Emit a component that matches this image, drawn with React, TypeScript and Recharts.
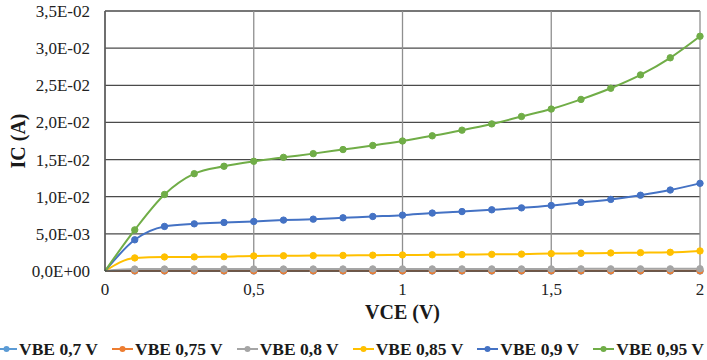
import { CartesianGrid, Legend, Line, LineChart, XAxis, YAxis } from "recharts";

const VCE = [0, 0.1, 0.2, 0.3, 0.4, 0.5, 0.6, 0.7, 0.8, 0.9, 1, 1.1, 1.2, 1.3, 1.4, 1.5, 1.6, 1.7, 1.8, 1.9, 2];

const IC_070 = [0, 0.000002, 0.000002, 0.000002, 0.000002, 0.000002, 0.000002, 0.000002, 0.000002, 0.000002, 0.000002, 0.000002, 0.000002, 0.000002, 0.000002, 0.000002, 0.000002, 0.000002, 0.000002, 0.000002, 0.000002];
const IC_075 = [0, 0.00003, 0.00003, 0.00003, 0.00003, 0.00003, 0.00003, 0.00003, 0.00003, 0.00003, 0.00003, 0.00003, 0.00003, 0.00003, 0.00003, 0.00003, 0.00003, 0.00003, 0.00003, 0.00003, 0.00003];
const IC_080 = [0, 0.00026, 0.00027, 0.00027, 0.00027, 0.00027, 0.00027, 0.00027, 0.00027, 0.00028, 0.00028, 0.00028, 0.00028, 0.00028, 0.00028, 0.00028, 0.00029, 0.00029, 0.00029, 0.00029, 0.0003];
const IC_085 = [0, 0.00176, 0.00189, 0.0019, 0.00193, 0.00203, 0.00205, 0.00207, 0.0021, 0.00213, 0.00216, 0.00218, 0.00221, 0.00224, 0.00227, 0.00234, 0.00238, 0.00243, 0.00247, 0.00252, 0.0027];
const IC_090 = [0, 0.0042, 0.006, 0.00635, 0.00653, 0.00667, 0.00685, 0.00698, 0.00716, 0.00734, 0.00752, 0.0078, 0.008, 0.00824, 0.0085, 0.00882, 0.00923, 0.00964, 0.0102, 0.0109, 0.0118];
const IC_095 = [0, 0.00554, 0.0103, 0.0131, 0.0141, 0.01477, 0.0153, 0.0158, 0.01635, 0.0169, 0.0175, 0.0182, 0.01896, 0.0198, 0.0208, 0.0218, 0.0231, 0.0246, 0.0264, 0.0287, 0.0316];

const SERIES = [
  { key: "v070", name: "VBE 0,7 V", color: "#5B9BD5", values: IC_070 },
  { key: "v075", name: "VBE 0,75 V", color: "#ED7D31", values: IC_075 },
  { key: "v080", name: "VBE 0,8 V", color: "#A5A5A5", values: IC_080 },
  { key: "v085", name: "VBE 0,85 V", color: "#FFC000", values: IC_085 },
  { key: "v090", name: "VBE 0,9 V", color: "#4472C4", values: IC_090 },
  { key: "v095", name: "VBE 0,95 V", color: "#70AD47", values: IC_095 },
];

const X_TICKS = [0, 0.5, 1, 1.5, 2];
const Y_TICKS = [0, 0.005, 0.01, 0.015, 0.02, 0.025, 0.03, 0.035];

const FONT = "Liberation Serif, Tinos, DejaVu Serif, serif";

const rows = VCE.map((x, i) => {
  const row: Record<string, number> = { vce: x };
  for (const s of SERIES) row[s.key] = s.values[i];
  return row;
});

function fmtY(v: number) {
  if (v === 0) return "0,0E+00";
  const [m, e] = v.toExponential(1).split("e");
  const exp = parseInt(e, 10);
  return m.replace(".", ",") + "E" + (exp < 0 ? "-" : "+") + String(Math.abs(exp)).padStart(2, "0");
}

function fmtX(v: number) {
  return String(v).replace(".", ",");
}

// no marker at the origin, like the original
function makeDot(color: string) {
  return (props: any) => {
    const { cx, cy, payload, index } = props;
    if (!payload || payload.vce === 0) return <g key={index} />;
    return <circle key={index} cx={cx} cy={cy} r={3.2} fill={color} stroke={color} />;
  };
}

function LegendContent() {
  return (
    <div
      style={{
        height: 22,
        display: "flex",
        justifyContent: "center",
        alignItems: "center",
        gap: 14,
        whiteSpace: "nowrap",
        fontFamily: FONT,
        fontWeight: 700,
        fontSize: 17.5,
        color: "#1a1a1a",
      }}
    >
      {SERIES.map((s) => (
        <span key={s.key} style={{ display: "flex", alignItems: "center" }}>
          <svg width={21} height={10} style={{ marginRight: 2 }}>
            <line x1={0} y1={5} x2={21} y2={5} stroke={s.color} strokeWidth={2} />
            <circle cx={10.5} cy={5} r={3} fill={s.color} />
          </svg>
          {s.name}
        </span>
      ))}
    </div>
  );
}

export default function App() {
  return (
    <div style={{ position: "absolute", left: 0, top: 0, background: "#fff" }}>
      <LineChart width={707} height={360} data={rows} margin={{ top: 11, right: 7, bottom: 0, left: 0 }}>
        <CartesianGrid vertical={false} stroke="#4a4a4a" strokeWidth={1.3} />
        <CartesianGrid horizontal={false} stroke="#8f8f8f" strokeWidth={1.3} />
        <XAxis
          dataKey="vce"
          type="number"
          domain={[0, 2]}
          ticks={X_TICKS}
          tickFormatter={fmtX}
          height={67}
          tickLine={false}
          tickMargin={6}
          axisLine={{ stroke: "#4a4a4a", strokeWidth: 1.3 }}
          tick={{ fontFamily: FONT, fontSize: 17, fill: "#222" }}
          label={{
            value: "VCE (V)",
            position: "insideTop",
            offset: 34,
            style: { fontFamily: FONT, fontSize: 20, fontWeight: 700, fill: "#1a1a1a" },
          }}
        />
        <YAxis
          type="number"
          domain={[0, 0.035]}
          ticks={Y_TICKS}
          tickFormatter={fmtY}
          width={105}
          tickLine={false}
          tickMargin={9}
          axisLine={{ stroke: "#4a4a4a", strokeWidth: 1.3 }}
          tick={{ fontFamily: FONT, fontSize: 17, fill: "#222" }}
          label={{
            value: "IC (A)",
            angle: -90,
            position: "center",
            dx: -35,
            style: { fontFamily: FONT, fontSize: 20, fontWeight: 700, fill: "#1a1a1a" },
          }}
        />
        <Legend verticalAlign="bottom" height={22} content={<LegendContent />} />
        {SERIES.map((s) => (
          <Line
            key={s.key}
            dataKey={s.key}
            name={s.name}
            type="monotone"
            stroke={s.color}
            strokeWidth={2}
            dot={makeDot(s.color)}
            activeDot={false}
            isAnimationActive={false}
          />
        ))}
      </LineChart>
    </div>
  );
}
